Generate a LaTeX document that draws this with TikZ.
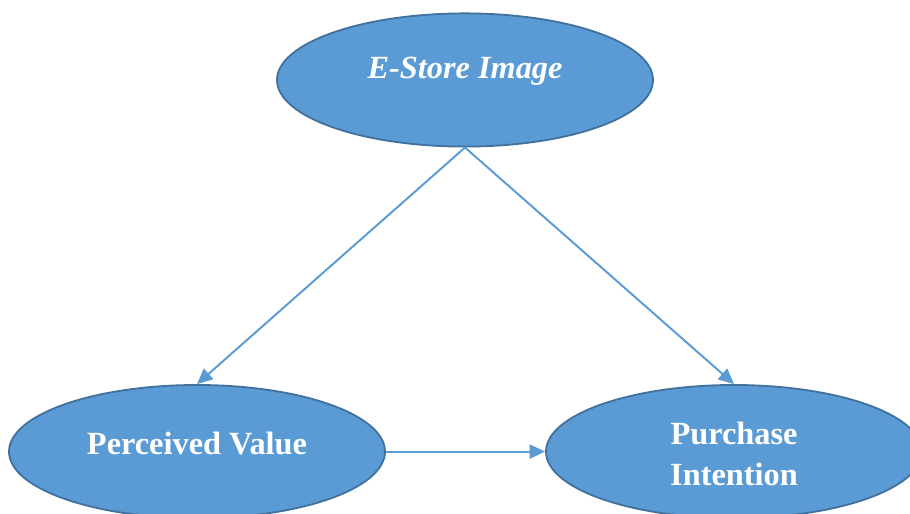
\documentclass[tikz,border=0pt]{standalone}
\usepackage{fontspec}
\setmainfont{Liberation Serif}
\usetikzlibrary{shapes.geometric,arrows.meta}

\definecolor{boxfill}{HTML}{5B9BD5}
\definecolor{boxline}{HTML}{41719C}
\definecolor{arrowcol}{HTML}{5B9BD5}

\tikzset{
  oval/.style={ellipse, draw=boxline, fill=boxfill, line width=1.3pt,
    minimum width=9.4cm, minimum height=3.33cm, inner sep=0pt},
  ovaltext/.style={text=white, font=\fontsize{23}{29}\selectfont\bfseries,
    align=center},
  link/.style={draw=arrowcol, line width=1.4pt,
    -{Triangle[length=11pt,width=10pt]}}
}

\begin{document}
\begin{tikzpicture}
    \useasboundingbox (0, 0) rectangle (22.75, 12.85);
    \clip (0, 0) rectangle (22.75, 12.85);

    \node[oval] (image) at (11.625, 10.85) {};
    \node[oval] (value) at (4.925, 1.56) {};
    \node[oval] (intention) at (18.35, 1.56) {};

    \node[ovaltext] (imagetext) at ([yshift=0.22cm]image.center) {\itshape E-Store Image};
    \node[ovaltext] (valuetext) at ([yshift=0.2cm]value.center) {Perceived Value};
    \node[ovaltext] (intentiontext) at ([yshift=-0.05cm]intention.center) {Purchase\\Intention};

    \draw[link] (image.south) -- (value.north);
    \draw[link] (image.south) -- (intention.north);
    \draw[link] (value.east) -- (intention.west);
\end{tikzpicture}
\end{document}
